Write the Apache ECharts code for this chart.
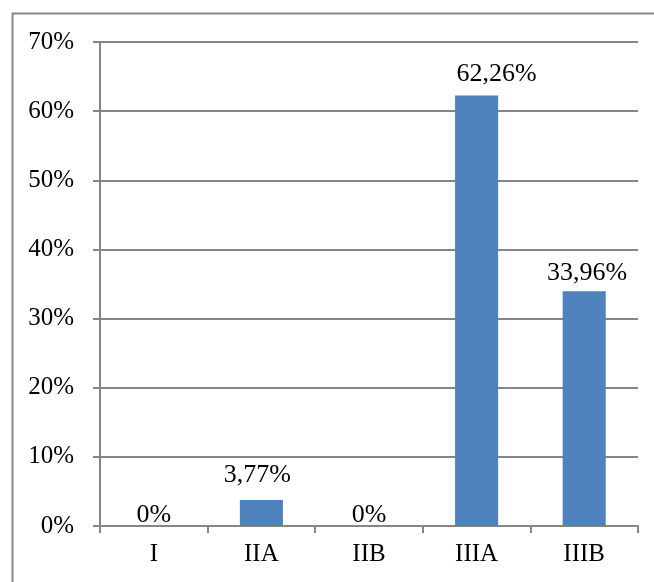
<!DOCTYPE html>
<html><head><meta charset="utf-8">
<script src="https://cdn.jsdelivr.net/npm/echarts@6/dist/echarts.min.js"></script>
<style>html,body{margin:0;padding:0;background:#fff}#c{width:654px;height:582px}</style>
</head><body><div id="c"></div>
<script>
const categories = ['I','IIA','IIB','IIIA','IIIB'];
const values = [0, 3.77, 0, 62.26, 33.96];
const labels = ['0%','3,77%','0%','62,26%','33,96%'];
const yMax = 70, yStep = 10;
const labelShiftX = [0, -4, 0, 20, 3];
const labelShiftY = [12, -2, 12, 2, 5];

const font = '"Liberation Serif","Times New Roman",serif';
const chart = echarts.init(document.getElementById('c'));
chart.setOption({
  animation:false,
  backgroundColor:'#fff',
  graphic:[{type:'rect',shape:{x:12.5,y:13.5,width:700,height:700},style:{fill:'none',stroke:'#868686',lineWidth:2},silent:true}],
  grid:{left:100,right:16,top:42,bottom:56},
  xAxis:{type:'category',data:categories,
    axisLine:{lineStyle:{color:'#868686',width:2}},
    axisTick:{show:true,length:7,lineStyle:{color:'#868686',width:2}},
    axisLabel:{color:'#000',fontFamily:font,fontSize:25,margin:16}},
  yAxis:{type:'value',min:0,max:yMax,interval:yStep,
    axisLine:{show:true,lineStyle:{color:'#868686',width:2}},
    axisTick:{show:true,length:7,lineStyle:{color:'#868686',width:2}},
    splitLine:{lineStyle:{color:'#868686',width:2}},
    axisLabel:{color:'#000',fontFamily:font,fontSize:25,margin:26,formatter:v=>v+'%'}},
  series:[{type:'bar',
    data:values.map((v,i)=>({value:v,label:{offset:[labelShiftX[i],labelShiftY[i]]}})),
    barCategoryGap:'60%',
    itemStyle:{color:'#4f81bd'},
    label:{show:true,position:'top',distance:10,color:'#000',fontFamily:font,fontSize:26,
      formatter:p=>labels[p.dataIndex]}}]
});
</script></body></html>
